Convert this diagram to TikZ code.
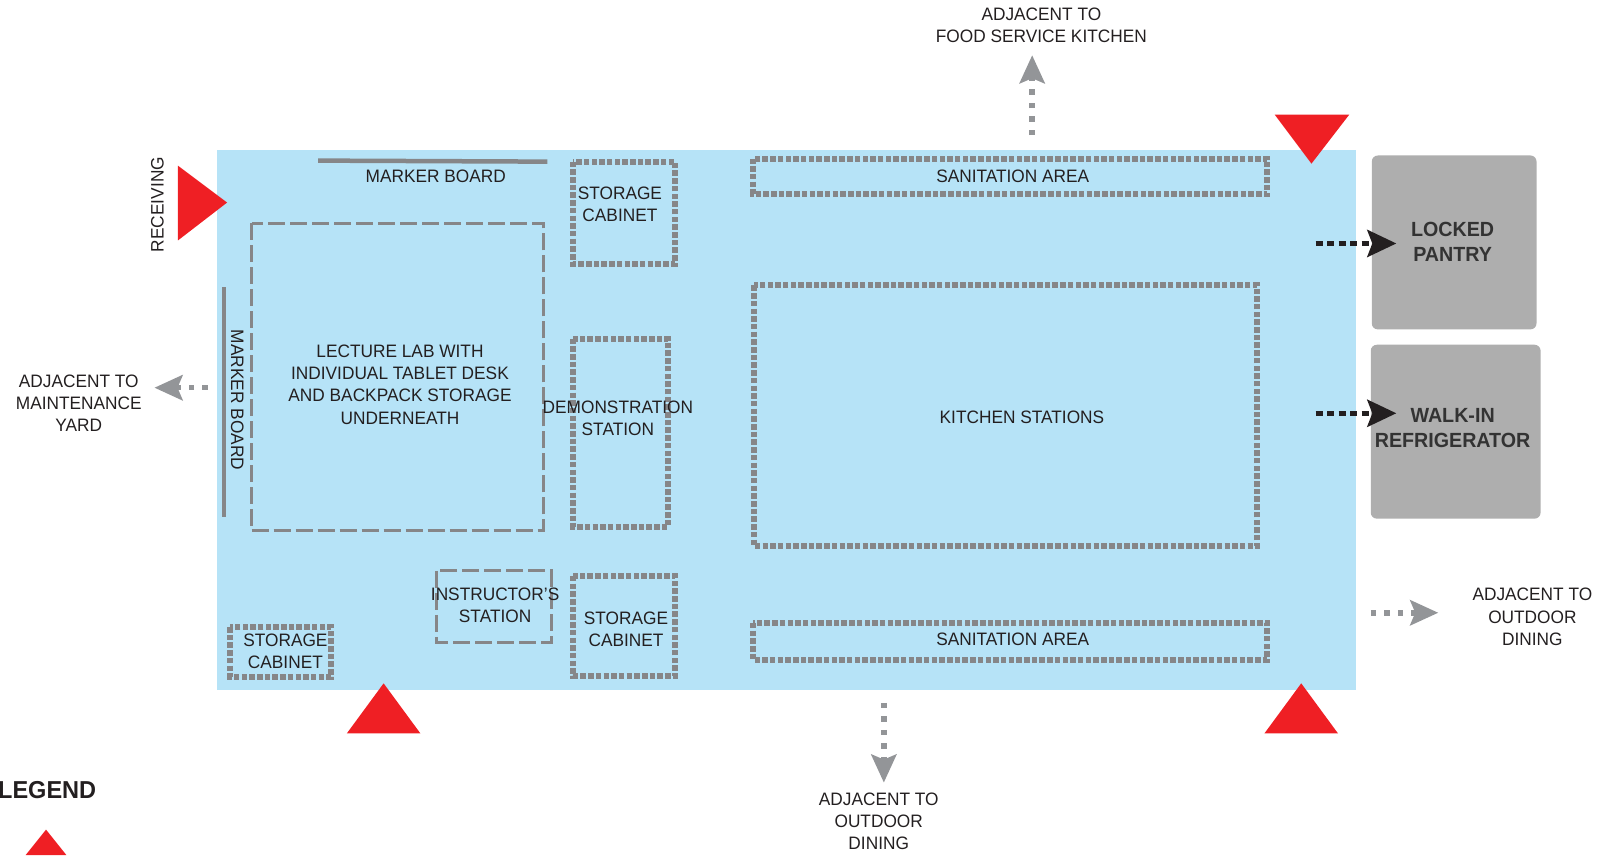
\documentclass[tikz,border=0pt]{standalone}
\usepackage{fontspec}
\setmainfont[FakeStretch=0.96]{Liberation Sans}
\usetikzlibrary{arrows.meta}
\definecolor{roomblue}{HTML}{B6E3F7}
\definecolor{markred}{HTML}{EF1F24}
\definecolor{linegrey}{HTML}{868688}
\definecolor{tipgrey}{HTML}{939598}
\definecolor{boxgrey}{HTML}{AEAEAE}
\definecolor{inkblack}{HTML}{231F20}
\tikzset{
	label text/.style = {align = center, text = inkblack, inner sep = 0pt,
		font = \fontsize{18}{22.3}\selectfont},
	bold text/.style = {align = center, text = black!80, inner sep = 0pt,
		font = \fontsize{20.5}{25}\selectfont\bfseries},
	dot box/.style = {draw = linegrey, line width = 6pt,
		dash pattern = on 5.5pt off 2.2pt},
	dash box/.style = {draw = linegrey, line width = 3pt,
		dash pattern = on 17pt off 5pt},
	marker board/.style = {draw = linegrey, line width = 4.5pt},
	grey room/.style = {fill = boxgrey, rounded corners = 6pt},
	access mark/.style = {fill = markred},
	grey link/.style = {draw = tipgrey, line width = 5.5pt,
		dash pattern = on 5.5pt off 8pt,
		-{Stealth[length = 28pt, width = 25pt, inset = 5pt, fill = tipgrey]}},
	black link/.style = {draw = inkblack, line width = 5pt,
		dash pattern = on 7pt off 4.5pt,
		-{Stealth[length = 29pt, width = 27pt, inset = 5pt, fill = inkblack]}}
}
\begin{document}
\begin{tikzpicture}[x = 1.023pt, y = -1.023pt]
\useasboundingbox (0,0) rectangle (1568,836);
\clip (0,0) rectangle (1568,836);

% room and side rooms
\fill [roomblue] (212,147) rectangle (1326,674.5);
\fill [grey room] (1341,152) rectangle (1502,322);
\fill [grey room] (1340,337) rectangle (1506,507);

% marker boards
\draw [marker board] (311,157) -- (535,158);
\draw [marker board] (219,281) -- (219,505);

% zones
\draw [dash box] (246,218) rectangle (531,519);
\draw [dash box] (427,558) rectangle (539,628);
\draw [dot box] (560,158) rectangle (660,258);
\draw [dot box] (560,331) rectangle (653,515);
\draw [dot box] (560,563) rectangle (660,661);
\draw [dot box] (225,613) rectangle (324,662);
\draw [dot box] (736,155) rectangle (1239,190);
\draw [dot box] (736,609) rectangle (1239,645);
\draw [dot box] (737,279) rectangle (1229,534);

% access marks
\fill [access mark] (1246,112) -- (1319,112) -- (1282,160) -- cycle;
\fill [access mark] (174,162) -- (174,235) -- (222,198) -- cycle;
\fill [access mark] (339,717) -- (411,717) -- (375,668) -- cycle;
\fill [access mark] (1236,717) -- (1308,717) -- (1272,668) -- cycle;
\fill [access mark] (25,836) -- (65,836) -- (45,811) -- cycle;

% labels
\node [label text] (foodservice) at (1018,25) {ADJACENT TO\\FOOD SERVICE KITCHEN};
\node [label text] (maintenance) at (77,394) {ADJACENT TO\\MAINTENANCE\\YARD};
\node [label text] (diningright) at (1498,603) {ADJACENT TO\\OUTDOOR\\DINING};
\node [label text] (diningbelow) at (859,803) {ADJACENT TO\\OUTDOOR\\DINING};
\node [label text, rotate = 90] (receiving) at (154,200) {RECEIVING};
\node [label text] (boardtop) at (426,172) {MARKER BOARD};
\node [label text, rotate = -90] (boardleft) at (232,391) {MARKER BOARD};
\node [label text] (lecture) at (391,376) {LECTURE LAB WITH\\INDIVIDUAL TABLET DESK\\AND BACKPACK STORAGE\\UNDERNEATH};
\node [label text] (storagetop) at (606,200) {STORAGE\\CABINET};
\node [label text] (demo) at (604,409) {DEMONSTRATION\\STATION};
\node [label text] (instructor) at (484,592) {INSTRUCTOR’S\\STATION};
\node [label text] (storagelow) at (612,615) {STORAGE\\CABINET};
\node [label text] (storageleft) at (279,637) {STORAGE\\CABINET};
\node [label text] (sanitop) at (990,172) {SANITATION AREA};
\node [label text] (sanilow) at (990,625) {SANITATION AREA};
\node [label text] (kitchen) at (999,408) {KITCHEN STATIONS};
\node [bold text] (pantry) at (1420,236) {LOCKED\\PANTRY};
\node [bold text] (fridge) at (1420,418) {WALK-IN\\REFRIGERATOR};
\node [bold text, anchor = west, font = \fontsize{24.5}{30}\selectfont\bfseries, text = inkblack]
	(legend) at (-2,772) {LEGEND};

% connector ends
\coordinate (foodfrom) at (1009,132);
\coordinate (foodto) at (1009,54);
\coordinate (yardfrom) at (203,379);
\coordinate (yardto) at (151,379);
\coordinate (rightfrom) at (1340,599);
\coordinate (rightto) at (1406,599);
\coordinate (belowfrom) at (864,687);
\coordinate (belowto) at (864,765);
\coordinate (pantryfrom) at (1286,238);
\coordinate (pantryto) at (1365,238);
\coordinate (fridgefrom) at (1286,404);
\coordinate (fridgeto) at (1365,404);

% connectors
\draw [grey link] (foodfrom) -- (foodto);
\draw [grey link] (yardfrom) -- (yardto);
\draw [grey link] (rightfrom) -- (rightto);
\draw [grey link] (belowfrom) -- (belowto);
\draw [black link] (pantryfrom) -- (pantryto);
\draw [black link] (fridgefrom) -- (fridgeto);
\end{tikzpicture}
\end{document}
